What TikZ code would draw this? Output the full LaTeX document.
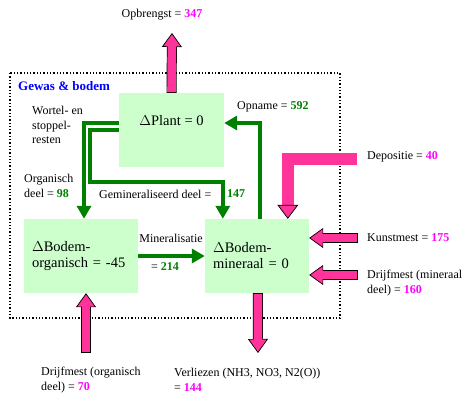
\documentclass[tikz,border=0pt]{standalone}
\usepackage{fontspec}
\setmainfont{Liberation Serif}
\usepackage{xcolor}
\usepackage{tikz}
\usetikzlibrary{positioning,calc,arrows.meta}
\definecolor{FlowPink}{RGB}{255,51,153}
\definecolor{NumPink}{RGB}{255,0,255}
\definecolor{FlowGreen}{RGB}{0,128,0}
\definecolor{BoxGreen}{RGB}{204,255,204}
\definecolor{TitleBlue}{RGB}{0,0,255}
\newcommand{\pinknum}[1]{\textcolor{NumPink}{\textbf{#1}}}
\newcommand{\greennum}[1]{\textcolor{FlowGreen}{\textbf{#1}}}
\tikzset{
    poolbox/.style={fill=BoxGreen, minimum height=74pt, inner ysep=0pt, inner xsep=8pt,
        align=left, font=\fontsize{14.5}{16}\selectfont},
    lbl/.style={inner sep=0pt, align=left, anchor=west},
    greenflow/.style={draw=FlowGreen, line width=4pt, -{Triangle[length=13pt,width=14pt]}},
    flow/.style={draw=black, line width=10pt,
        -{Triangle[length=14pt,width=20pt,line width=0.7pt,fill=FlowPink]},
        postaction={draw=FlowPink, line width=8.6pt, -, shorten >=12pt, shorten <=0.7pt}}
}

\begin{document}
\begin{tikzpicture}[x=1pt, y=-1pt,
                font=\fontsize{12}{14.5}\selectfont,
                depbar/.style={draw=FlowPink, line width=12pt,
                    -{Triangle[length=14pt,width=21pt,line width=0.7pt,fill=FlowPink,color=black]}}
            ]
                \useasboundingbox (0,0) rectangle (464,394);

                % frame
                \draw[dotted, line width=1.3pt] (10,73) rectangle (340,318);
                \node[lbl, font=\fontsize{13}{15}\selectfont\bfseries, text=TitleBlue] (title) at (18,86) {Gewas \& bodem};

                % pools
                \node[poolbox, minimum width=105pt, inner xsep=0pt, text height=10pt, text depth=20pt] (plant) at (171.5,130) {$\Delta$Plant = 0};
                \node[poolbox, text width=98pt] (orgbox) at (81,256) {$\Delta$Bodem-\\organisch = -45};
                \node[poolbox, text width=88pt] (minbox) at (257,256) {$\Delta$Bodem-\\mineraal = 0};

                % free ends
                \coordinate (opbtip) at (172,33);
                \coordinate (depstart) at (357,159);
                \coordinate (kunststart) at (358,238);
                \coordinate (drijfminstart) at (358,275);
                \coordinate (verltip) at (258,353);
                \coordinate (drijforgstart) at (86,353);
                \coordinate (bendrest) at (90,182);

                % internal flows
                \draw[greenflow] ([yshift=7pt]plant.west) -| ([xshift=3pt]orgbox.north);
                \draw[greenflow] (plant.west) -| (bendrest) -| ([xshift=18pt]minbox.north west);
                \draw[greenflow] ([xshift=55pt]minbox.north west) |- ([yshift=7pt]plant.east);
                \draw[greenflow] (orgbox.east) -- (minbox.west);

                % external flows
                \draw[flow] (plant.north) -- (opbtip);
                \draw[depbar] (depstart) -| ([xshift=83pt]minbox.north west);
                \draw[flow] (kunststart) -- ([yshift=18pt]minbox.east);
                \draw[flow] (drijfminstart) -- ([yshift=-19pt]minbox.east);
                \draw[flow] ([xshift=53pt]minbox.south west) -- (verltip);
                \draw[flow] (drijforgstart) -- ([xshift=5pt]orgbox.south);

                % labels
                \node[lbl, anchor=center] (opbrengst) at (162,15) {Opbrengst = \pinknum{347}};
                \node[lbl] (wortel) at (32,125) {Wortel- en\\stoppel-\\resten};
                \node[lbl] (orgdeel) at (24,186) {Organisch\\deel = \greennum{98}};
                \node[lbl] (gemin) at (99,194) {Gemineraliseerd deel =};
                \node[lbl] (gemval) at (227,194) {\greennum{147}};
                \node[lbl] (opname) at (237,107) {Opname = \greennum{592}};
                \node[lbl, anchor=center] (minlabel) at (171,238) {Mineralisatie};
                \node[lbl, anchor=center] (minvalue) at (165,267) {= \greennum{214}};
                \node[lbl] (depositie) at (367,157) {Depositie = \pinknum{40}};
                \node[lbl] (kunstmest) at (367,238) {Kunstmest = \pinknum{175}};
                \node[lbl] (drijfmin) at (367,283) {Drijfmest (mineraal\\deel) = \pinknum{160}};
                \node[lbl] (drijforg) at (41,380) {Drijfmest (organisch\\deel) = \pinknum{70}};
                \node[lbl] (verliezen) at (174,380) {Verliezen (NH3, NO3, N2(O))\\= \pinknum{144}};
            \end{tikzpicture}
\end{document}
